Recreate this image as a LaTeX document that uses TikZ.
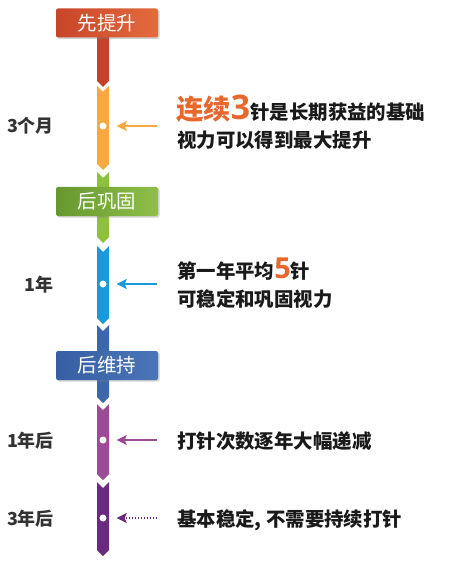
\documentclass[tikz,border=0pt]{standalone}
\usepackage{fontspec}
\setmainfont{Noto Sans CJK SC}
\newfontfamily\numfont{Open Sans}
\usetikzlibrary{arrows.meta,shadows}

\definecolor{redA}{HTML}{C9452A}
\definecolor{redB}{HTML}{E26B3D}
\definecolor{redbar}{HTML}{C2432A}
\definecolor{orangebar}{HTML}{F6A841}
\definecolor{greenA}{HTML}{679830}
\definecolor{greenB}{HTML}{8FBF48}
\definecolor{greenbar}{HTML}{8DC03F}
\definecolor{bluebar}{HTML}{1A9AD7}
\definecolor{navyA}{HTML}{375FA3}
\definecolor{navyB}{HTML}{4B76B6}
\definecolor{navybar}{HTML}{3C68AA}
\definecolor{purplebar}{HTML}{9C4C94}
\definecolor{plumbar}{HTML}{6A2A7F}
\definecolor{hilite}{HTML}{E8672C}
\definecolor{labelgray}{HTML}{333333}
\definecolor{notetext}{HTML}{1A1A1A}

% one bar piece: notch on top, point at the bottom
\newcommand\chevseg[3]{\fill[#1] (97,#2) -- (103,#2+6) -- (109,#2) -- (109,#3) -- (103,#3+6) -- (97,#3) -- cycle;}

\begin{document}
\begin{tikzpicture}[x=1bp, y=-1bp,
        header/.style={rectangle, rounded corners=2bp, minimum width=102bp, minimum height=29bp, inner sep=0pt, text=white, font=\fontsize{19.5}{19.5}\selectfont, drop shadow={opacity=0.35, shadow xshift=1.5bp, shadow yshift=-1.5bp}},
        dot/.style={circle, fill=white, inner sep=0pt, minimum size=7bp},
        pointer/.style={line width=2.2bp, -{Stealth[length=10bp, width=10bp, inset=2bp]}, shorten >=10bp},
        period/.style={anchor=base east, inner sep=0pt, text=labelgray, font=\fontsize{18}{18}\selectfont\bfseries},
        remark/.style={anchor=base west, inner sep=0pt, text=notetext, font=\fontsize{19.5}{19.5}\selectfont\bfseries}
    ]
        \useasboundingbox (0,0) rectangle (449,562);

        % Bar pieces
        \chevseg{redbar}{20}{81}
        \chevseg{orangebar}{86}{164}
        \chevseg{greenbar}{172}{237}
        \chevseg{bluebar}{246}{318}
        \chevseg{navybar}{325}{397}
        \chevseg{purplebar}{404}{474}
        \chevseg{plumbar}{482}{550}

        % Stage headers
        \node[header, left color=redA, right color=redB] (boost) at (107, 23) {先提升};
        \node[header, left color=greenA, right color=greenB] (consolidate) at (107, 201.5) {后巩固};
        \node[header, left color=navyA, right color=navyB] (maintain) at (107, 365.5) {后维持};

        % Dots on the bar
        \node[dot] (dotA) at (103, 126) {};
        \node[dot] (dotB) at (103, 284) {};
        \node[dot] (dotC) at (103, 440) {};
        \node[dot] (dotD) at (103, 518) {};

        % Time labels
        \node[period] (threeMonths) at (54, 133) {3个月};
        \node[period] (oneYear) at (54, 291) {1年};
        \node[period] (afterOne) at (54, 447) {1年后};
        \node[period] (afterThree) at (54, 525) {3年后};

        % Notes
        \node[remark] (noteA) at (176, 120) {{\color{hilite}\fontsize{27.5}{27.5}\selectfont 连续{\numfont\fontsize{34}{34}\selectfont 3}}针是长期获益的基础};
        \node[remark] (noteA2) at (177, 148) {视力可以得到最大提升};
        \node[remark] (noteB) at (177, 278) {第一年平均{\color{hilite}\numfont\fontsize{29}{29}\selectfont 5}针};
        \node[remark] (noteB2) at (177, 306) {可稳定和巩固视力};
        \node[remark] (noteC) at (177, 448) {打针次数逐年大幅递减};
        \node[remark] (noteD) at (177, 526) {基本稳定, 不需要持续打针};

        % Arrows
        \coordinate (tailA) at (157, 126);
        \coordinate (tailB) at (157, 284);
        \coordinate (tailC) at (157, 440);
        \coordinate (tailD) at (157, 518);
        \draw[pointer, orangebar] (tailA) -- (dotA);
        \draw[pointer, bluebar] (tailB) -- (dotB);
        \draw[pointer, purplebar] (tailC) -- (dotC);
        \draw[pointer, plumbar, dash pattern=on 1.5bp off 1.5bp] (tailD) -- (dotD);
    \end{tikzpicture}
\end{document}
